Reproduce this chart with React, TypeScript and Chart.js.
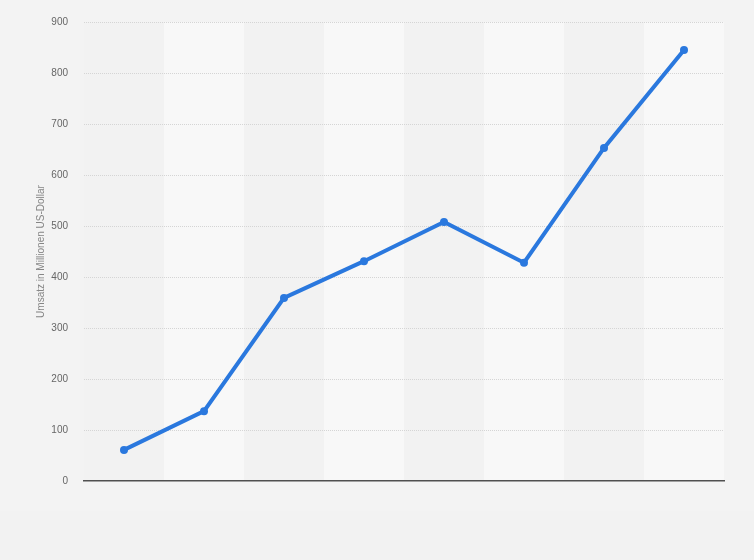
import React, { useEffect, useRef } from "react";
import { Chart, registerables } from "chart.js";

Chart.register(...registerables);

const categories = ["1", "2", "3", "4", "5", "6", "7", "8"];
const revenue = [61, 137, 359, 431, 508, 428, 653, 845];
const yTicks = [0, 100, 200, 300, 400, 500, 600, 700, 800, 900];
const yTitle = "Umsatz in Millionen US-Dollar";

const bandsPlugin = {
  id: "bands",
  beforeDraw(chart: any) {
    const { ctx, chartArea, width, height } = chart;
    ctx.save();
    ctx.fillStyle = "#f2f2f2";
    ctx.fillRect(0, 0, width, height);
    ctx.fillStyle = "#f3f3f3";
    ctx.fillRect(0, 0, width, 511);
    const x = chart.scales.x;
    const n = categories.length;
    const w = chartArea.width / n;
    for (let i = 0; i < n; i++) {
      const cx = x.getPixelForValue(i);
      ctx.fillStyle = i % 2 === 1 ? "#f8f8f8" : "#f2f2f2";
      ctx.fillRect(cx - w / 2, chartArea.top, w, chartArea.bottom - chartArea.top);
    }
    ctx.restore();
  },
};

export default function App() {
  const ref = useRef<HTMLCanvasElement>(null);
  useEffect(() => {
    document.body.style.margin = "0";
    const chart = new Chart(ref.current!, {
      type: "line",
      data: {
        labels: categories,
        datasets: [
          {
            data: revenue,
            borderColor: "#2a78de",
            backgroundColor: "#2a78de",
            borderWidth: 4,
            pointRadius: 4,
            pointHoverRadius: 4,
            pointBackgroundColor: "#2a78de",
            pointBorderWidth: 0,
            tension: 0,
            fill: false,
          },
        ],
      },
      options: {
        animation: false,
        responsive: false,
        maintainAspectRatio: false,
        layout: { padding: { left: 0, right: 30, top: 20, bottom: 79 } },
        plugins: { legend: { display: false }, tooltip: { enabled: false } },
        scales: {
          x: {
            offset: true,
            ticks: { display: false },
            grid: { display: false, drawTicks: false },
            border: { display: true, color: "#505050", width: 1.5 },
          },
          y: {
            min: 0,
            max: 900,
            afterFit(scale: any) {
              scale.width = 84;
            },
            afterBuildTicks(scale: any) {
              scale.ticks = yTicks.map((v) => ({ value: v }));
            },
            ticks: {
              padding: 16,
              color: "#666666",
              font: { family: "'Liberation Sans', Arial, sans-serif", size: 10 },
            },
            grid: {
              drawTicks: false,
              color: (c: any) => (c.tick && c.tick.value === 0 ? "rgba(0,0,0,0)" : "#d5d5d5"),
              lineWidth: 1,
            },
            border: { display: false, dash: [1, 1] },
            title: {
              display: true,
              text: yTitle,
              color: "#858585",
              padding: { top: 35, bottom: 0 },
              font: { family: "'Liberation Sans', Arial, sans-serif", size: 10 },
            },
          },
        },
      },
      plugins: [bandsPlugin],
    });
    return () => chart.destroy();
  }, []);
  return (
    <div style={{ width: 754, height: 560, position: "relative" }}>
      <canvas ref={ref} width={754} height={560} style={{ display: "block", width: 754, height: 560 }} />
    </div>
  );
}
